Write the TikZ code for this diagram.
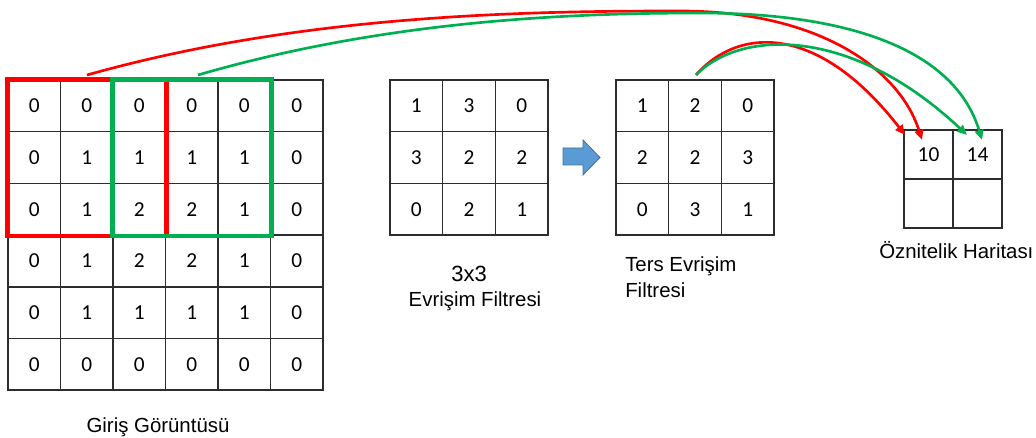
\documentclass[tikz,border=0pt]{standalone}
\usepackage{fontspec}
\setmainfont{Liberation Sans}
\newfontfamily\cellfont{Carlito}
\usetikzlibrary{arrows.meta}

\definecolor{winred}{RGB}{255,0,0}
\definecolor{wingreen}{RGB}{0,176,80}
\definecolor{arrowfill}{RGB}{91,155,213}
\definecolor{arrowedge}{RGB}{65,113,156}
\definecolor{gridline}{RGB}{45,45,45}

\begin{document}
\begin{tikzpicture}[x=0.75pt,y=-0.75pt,
  cell/.style={draw=gridline, line width=1.1pt, inner sep=0pt,
    minimum width=39.4pt, minimum height=38.8pt,
    font=\cellfont\fontsize{16}{16}\selectfont},
  fcell/.style={cell, minimum width=36.75pt, minimum height=36.75pt},
  captext/.style={font=\fontsize{15.3}{18}\selectfont, inner sep=0pt},
  window/.style={line width=3.4pt},
  link/.style={line width=2pt, -{Triangle[length=7.5pt,width=6.5pt]}},
]
\useasboundingbox (0,0) rectangle (1036,438);

% input image, 6x6
\foreach \vals [count=\r] in {{0,0,0,0,0,0},{0,1,1,1,1,0},{0,1,2,2,1,0},
                              {0,1,2,2,1,0},{0,1,1,1,1,0},{0,0,0,0,0,0}}{
  \foreach \v [count=\c] in \vals {
    \node[cell] (in-\r-\c) at ({8+52.5*(\c-0.5)},{80+51.7*(\r-0.5)}) {\v};
  }
}

% convolution filter, 3x3
\foreach \vals [count=\r] in {{1,3,0},{3,2,2},{0,2,1}}{
  \foreach \v [count=\c] in \vals {
    \node[cell] (flt-\r-\c) at ({390+52.67*(\c-0.5)},{80+51.7*(\r-0.5)}) {\v};
  }
}

% flipped filter, 3x3
\foreach \vals [count=\r] in {{1,2,0},{2,2,3},{0,3,1}}{
  \foreach \v [count=\c] in \vals {
    \node[cell] (inv-\r-\c) at ({616+52.67*(\c-0.5)},{80+51.7*(\r-0.5)}) {\v};
  }
}

% feature map, 2x2
\node[fcell] (fm-1-1) at (928.5,154.5) {10};
\node[fcell] (fm-1-2) at (977.5,154.5) {14};
\node[fcell] (fm-2-1) at (928.5,203.5) {};
\node[fcell] (fm-2-2) at (977.5,203.5) {};

% sliding windows on the input
\draw[window, winred]   (in-1-1.north west) rectangle (in-3-3.south east);
\draw[window, wingreen] (in-1-3.north west) rectangle (in-3-5.south east);

% block arrow between the filters
\draw[fill=arrowfill, draw=arrowedge, line width=0.6pt]
  (563,148) -- (583,148) -- (583,140) -- (600,157.5) -- (583,175)
  -- (583,165) -- (563,165) -- cycle;

% captions
\node[captext, anchor=base] (in-cap) at (158,432) {Giriş Görüntüsü};
\node[captext, font=\fontsize{16.5}{18}\selectfont, anchor=base] (size-cap) at (469,282) {3x3};
\node[captext, anchor=base] (flt-cap) at (475,307) {Evrişim Filtresi};
\node[captext, anchor=base west] (inv-cap-a) at (625,272) {Ters Evrişim};
\node[captext, anchor=base west] (inv-cap-b) at (625,298) {Filtresi};
\node[captext, anchor=base west] (fm-cap) at (879,259) {Öznitelik Haritası};

% connector ends
\coordinate (red-start) at (87,75);
\coordinate (green-start) at (198,75);
\coordinate (inv-start) at (696,75);
\coordinate (red-top) at (680,11);
\coordinate (green-top) at (700,13);
\coordinate (red-long-end) at (922,140);
\coordinate (green-long-end) at (982,140);
\coordinate (red-short-end) at (905,135);
\coordinate (green-short-end) at (967,135);

% window -> feature map
\draw[link, winred] (red-start) .. controls (300,15) and (520,11) .. (red-top)
  .. controls (820,11) and (900,70) .. (red-long-end);
\draw[link, wingreen] (green-start) .. controls (380,22) and (560,13) .. (green-top)
  .. controls (850,13) and (955,50) .. (green-long-end);

% flipped filter -> feature map
\draw[link, winred] (inv-start) .. controls (740,25) and (820,25) .. (red-short-end);
\draw[link, wingreen] (inv-start) .. controls (740,30) and (850,25) .. (green-short-end);
\end{tikzpicture}
\end{document}
